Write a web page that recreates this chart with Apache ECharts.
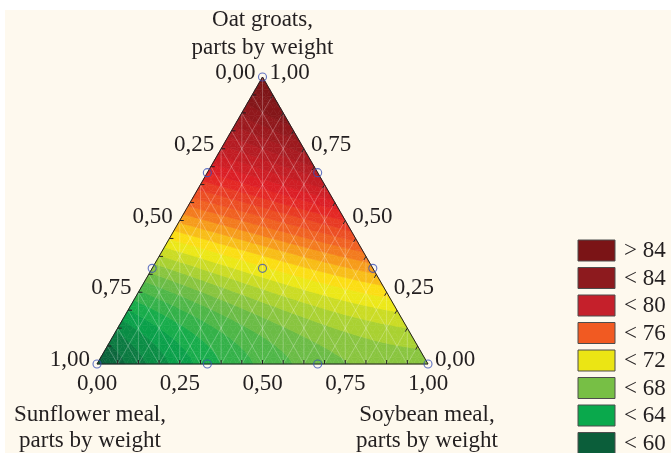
<!DOCTYPE html>
<html>
<head>
<meta charset="utf-8">
<script src="https://cdn.jsdelivr.net/npm/echarts@6/dist/echarts.min.js"></script>
<style>
html, body { margin: 0; padding: 0; background: #fff; }
#bg { position: absolute; left: 5px; top: 10px; width: 666px; height: 443px; background: #fef9ee; }
#chart { position: absolute; left: 0; top: 0; width: 671px; height: 453px; }
</style>
</head>
<body>
<div id="bg"></div>
<div id="chart"></div>
<script>
// design points of the mixture plan (parts by weight) and the response
const oatGroats     = [1, 0, 0, 2/3, 1/3, 2/3, 1/3, 0, 0, 1/3];
const sunflowerMeal = [0, 1, 0, 1/3, 2/3, 0, 0, 2/3, 1/3, 1/3];
const soybeanMeal   = [0, 0, 1, 0, 0, 1/3, 2/3, 1/3, 2/3, 1/3];
const response      = [87, 57.5, 66.5, 78, 66.5, 81.5, 72.5, 62.5, 65.5, 69.8];

const tickValues = [0, 0.25, 0.5, 0.75, 1];
const tickLabels = ['0,00', '0,25', '0,50', '0,75', '1,00'];

const legendLabels = ['> 84', '< 84', '< 80', '< 76', '< 72', '< 68', '< 64', '< 60'];
const legendColors = ['#7b1416', '#8d1a1e', '#c5202b', '#f15a22', '#ebe514', '#77bf45', '#0aa94c', '#0b5e3a'];

// colour ramp used for the shaded map (value -> colour)
const rampValues = [58, 62, 66, 70, 74, 78, 82, 86];
const rampColors = ['#0b5e3a', '#0aa94c', '#79bf45', '#fcee12', '#f26a21', '#e21f26', '#ae1c22', '#7e1518'];

const SQ = Math.sqrt(3) / 2;
const N = 45;      // mesh subdivision for the fill
const STEP = 1;    // width of a shade band

function surface(a, b, c) {
    // cubic Scheffe polynomial through the 10 lattice points
    const x = [a, b, c];
    let v = 0;
    for (let i = 0; i < response.length; i++) {
        const n = [Math.round(oatGroats[i] * 3), Math.round(sunflowerMeal[i] * 3), Math.round(soybeanMeal[i] * 3)];
        let L = 1;
        for (let m = 0; m < 3; m++) {
            for (let s = 0; s < n[m]; s++) L *= (3 * x[m] - s) / (s + 1);
        }
        v += response[i] * L;
    }
    return v;
}

function toXY(a, b, c) {
    return [c + a / 2, a * SQ];
}

function hex(c) {
    return [parseInt(c.slice(1, 3), 16), parseInt(c.slice(3, 5), 16), parseInt(c.slice(5, 7), 16)];
}

function rampColor(v) {
    if (v <= rampValues[0]) return rampColors[0];
    const last = rampValues.length - 1;
    if (v >= rampValues[last]) return rampColors[last];
    let k = 0;
    while (v > rampValues[k + 1]) k++;
    const t = (v - rampValues[k]) / (rampValues[k + 1] - rampValues[k]);
    const c1 = hex(rampColors[k]), c2 = hex(rampColors[k + 1]);
    const r = c1.map((d, i) => Math.round(d + (c2[i] - d) * t));
    return 'rgb(' + r.join(',') + ')';
}

function clip(poly, fn) {
    const out = [];
    for (let i = 0; i < poly.length; i++) {
        const p = poly[i], q = poly[(i + 1) % poly.length];
        const fp = fn(p), fq = fn(q);
        if (fp >= 0) out.push(p);
        if ((fp >= 0) !== (fq >= 0)) {
            const t = fp / (fp - fq);
            out.push({ x: p.x + t * (q.x - p.x), y: p.y + t * (q.y - p.y), v: p.v + t * (q.v - p.v) });
        }
    }
    return out;
}

// small triangles of the simplex, as lattice indices (p -> oat, q -> soybean)
const cells = [];
for (let p = 0; p < N; p++) {
    for (let q = 0; p + q < N; q++) {
        cells.push([[p, q], [p, q + 1], [p + 1, q]]);
        if (p + q < N - 1) cells.push([[p + 1, q], [p, q + 1], [p + 1, q + 1]]);
    }
}
const cellData = cells.map((t, i) => {
    const a = (t[0][0] + t[1][0] + t[2][0]) / (3 * N);
    const c = (t[0][1] + t[1][1] + t[2][1]) / (3 * N);
    const xy = toXY(a, 1 - a - c, c);
    return [xy[0], xy[1], i];
});

// mesh lines: vertical, constant soybean, constant sunflower
const meshData = [];
for (let k = 1; k < 16; k++) {
    const t = k / 16;
    meshData.push([t, 0, 0, t]);
    meshData.push([t, 0, 1, t]);
    meshData.push([t, 0, 2, t]);
}

const chart = echarts.init(document.getElementById('chart'));

const option = {
    animation: false,
    grid: { left: 97, top: 77, width: 331, height: 287 },
    xAxis: { type: 'value', min: 0, max: 1, show: false },
    yAxis: { type: 'value', min: 0, max: SQ, show: false },
    series: [
        {
            type: 'custom',
            coordinateSystem: 'cartesian2d',
            data: cellData,
            silent: true,
            z: 1,
            renderItem(params, api) {
                const tri = cells[api.value(2)];
                const poly = tri.map(([p, q]) => {
                    const a = p / N, c = q / N, b = 1 - a - c;
                    const pt = api.coord(toXY(a, b, c));
                    return { x: pt[0], y: pt[1], v: surface(a, b, c) };
                });
                const vs = poly.map(d => d.v);
                const lo = Math.floor(Math.min(...vs) / STEP), hi = Math.floor(Math.max(...vs) / STEP);
                const children = [];
                for (let k = lo; k <= hi; k++) {
                    let part = clip(poly, d => d.v - k * STEP);
                    part = clip(part, d => (k + 1) * STEP - d.v);
                    if (part.length < 3) continue;
                    const col = rampColor((k + 0.5) * STEP);
                    children.push({
                        type: 'polygon',
                        shape: { points: part.map(d => [d.x, d.y]) },
                        style: { fill: col, stroke: col, lineWidth: 0.6 }
                    });
                }
                return { type: 'group', children };
            }
        },
        {
            type: 'custom',
            coordinateSystem: 'cartesian2d',
            data: meshData,
            silent: true,
            z: 2,
            renderItem(params, api) {
                const fam = api.value(2), t = api.value(3);
                let p1, p2;
                if (fam === 0) {
                    p1 = [t, 0];
                    p2 = [t, (t <= 0.5 ? t : 1 - t) * 2 * SQ];
                } else if (fam === 1) {
                    p1 = [t, 0];
                    p2 = [t + (1 - t) / 2, (1 - t) * SQ];
                } else {
                    p1 = [1 - t, 0];
                    p2 = [(1 - t) / 2, (1 - t) * SQ];
                }
                const a = api.coord(p1), b = api.coord(p2);
                return {
                    type: 'line',
                    shape: { x1: a[0], y1: a[1], x2: b[0], y2: b[1] },
                    style: { stroke: 'rgba(255,255,255,0.32)', lineWidth: 0.8 }
                };
            }
        },
        {
            // frame and ticks
            type: 'custom',
            coordinateSystem: 'cartesian2d',
            data: [[0.5, 0.3]],
            silent: true,
            z: 3,
            renderItem(params, api) {
                const A = api.coord(toXY(1, 0, 0)), B = api.coord(toXY(0, 1, 0)), C = api.coord(toXY(0, 0, 1));
                const children = [{
                    type: 'polygon',
                    shape: { points: [A, B, C] },
                    style: { fill: 'none', stroke: '#231f20', lineWidth: 1 }
                }];
                const tk = { stroke: '#231f20', lineWidth: 1 };
                for (let k = 1; k < 16; k++) {
                    const t = k / 16;
                    const pb = api.coord(toXY(0, 1 - t, t));
                    children.push({ type: 'line', shape: { x1: pb[0], y1: pb[1], x2: pb[0], y2: pb[1] - 4 }, style: tk });
                    const pl = api.coord(toXY(1 - t, t, 0));
                    children.push({ type: 'line', shape: { x1: pl[0], y1: pl[1], x2: pl[0] + 4, y2: pl[1] }, style: tk });
                    const pr = api.coord(toXY(t, 0, 1 - t));
                    children.push({ type: 'line', shape: { x1: pr[0], y1: pr[1], x2: pr[0] - 2, y2: pr[1] + 3.5 }, style: tk });
                }
                return { type: 'group', children };
            }
        },
        {
            type: 'scatter',
            symbol: 'circle',
            symbolSize: 8,
            silent: true,
            z: 4,
            itemStyle: { color: 'rgba(0,0,0,0)', borderColor: '#3b52b8', borderWidth: 1.1 },
            data: response.map((v, i) => toXY(oatGroats[i], sunflowerMeal[i], soybeanMeal[i]))
        }
    ]
};

chart.setOption(option);

// text: axis titles, tick labels, legend
const font = { fontFamily: 'Liberation Serif', fontSize: 23, fill: '#231f20' };
const graphics = [];
function text(str, x, y, align) {
    graphics.push({
        type: 'text', x, y, silent: true,
        style: Object.assign({ text: str, align, verticalAlign: 'middle' }, font)
    });
}
const px = xy => chart.convertToPixel({ gridIndex: 0 }, xy);

tickValues.forEach((v, i) => {
    const pl = px(toXY(1 - v, v, 0));
    text(tickLabels[i], pl[0] - 7, pl[1] - 4, 'right');
    const pr = px(toXY(v, 0, 1 - v));
    text(tickLabels[i], pr[0] + 7, pr[1] - 4, 'left');
    const pb = px(toXY(0, 1 - v, v));
    text(tickLabels[i], pb[0], pb[1] + 20, 'center');
});

const apex = px(toXY(1, 0, 0));
text('Oat groats,', apex[0], 20, 'center');
text('parts by weight', apex[0], 48, 'center');
text('Sunflower meal,', 90, 415, 'center');
text('parts by weight', 90, 441, 'center');
text('Soybean meal,', 427, 415, 'center');
text('parts by weight', 427, 441, 'center');

legendLabels.forEach((lab, i) => {
    const y = 240 + 27.5 * i;
    graphics.push({
        type: 'rect', silent: true,
        shape: { x: 578, y: y, width: 37, height: 21 },
        style: { fill: legendColors[i], stroke: '#4d4d4d', lineWidth: 1 }
    });
    text(lab, 624, y + 11, 'left');
});

chart.setOption({ graphic: graphics });
</script>
</body>
</html>
